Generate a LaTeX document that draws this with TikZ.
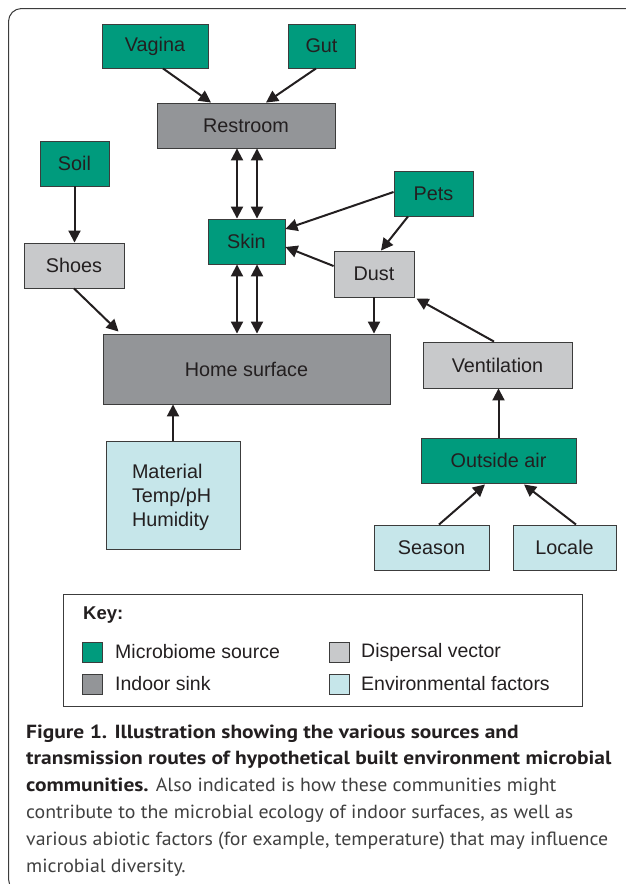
\documentclass[tikz,border=0pt]{standalone}
\usepackage{fontspec}
\setmainfont{Liberation Sans}
\newfontfamily\capfont{PT Sans}[FakeStretch=1.045]
\newfontfamily\capbold{PT Sans}[FakeStretch=1.13]
\usetikzlibrary{arrows.meta,calc}
\definecolor{srcgreen}{RGB}{0,155,125}
\definecolor{sinkgray}{RGB}{147,149,152}
\definecolor{dispgray}{RGB}{200,201,203}
\definecolor{envblue}{RGB}{198,230,234}
\definecolor{inkc}{RGB}{35,31,32}
\definecolor{framec}{RGB}{60,60,60}
\tikzset{
  box/.style={draw=framec, line width=0.9pt, inner sep=0pt, text=inkc, font=\fontsize{19.8pt}{23pt}\selectfont},
  src/.style={box, fill=srcgreen},
  sink/.style={box, fill=sinkgray},
  disp/.style={box, fill=dispgray},
  env/.style={box, fill=envblue},
  arr/.style={draw=inkc, line width=2pt, -{Triangle[length=12pt,width=12pt]}},
  darr/.style={draw=inkc, line width=2pt, {Triangle[length=12pt,width=12pt]}-{Triangle[length=12pt,width=12pt]}},
  swatch/.style={draw=framec, line width=0.9pt, minimum width=20pt, minimum height=20pt, inner sep=0pt},
  keytext/.style={anchor=west, inner sep=0pt, text=inkc, font=\fontsize{19.5pt}{22pt}\selectfont},
  capline/.style={anchor=base west, inner sep=0pt, font=\capfont\fontsize{19pt}{22pt}\selectfont, text=black!75},
  capbf/.style={capline, text=inkc, font=\capbold\bfseries\fontsize{19pt}{22pt}\selectfont}
}
\begin{document}
\begin{tikzpicture}[x=1pt,y=-1pt]
\useasboundingbox (0,0) rectangle (626,884);
\begin{scope}
\clip (0,0) rectangle (626,884);
\draw[framec, line width=1pt, rounded corners=13pt] (8.5,8.5) rectangle (660,892);
\end{scope}
% boxes
\node[src, minimum width=106pt, minimum height=44pt] (vagina) at (155,46) {Vagina};
\node[src, minimum width=67pt, minimum height=44pt] (gut) at (321.5,46) {Gut};
\node[sink, minimum width=178pt, minimum height=45pt] (restroom) at (246,125.5) {Restroom};
\node[src, minimum width=69pt, minimum height=45pt] (soil) at (74.5,163.5) {Soil};
\node[disp, minimum width=100pt, minimum height=45pt] (shoes) at (74,265.5) {Shoes};
\node[src, minimum width=77pt, minimum height=45pt] (skin) at (246.5,241.5) {Skin};
\node[src, minimum width=79pt, minimum height=45pt] (pets) at (433.5,193.5) {Pets};
\node[disp, minimum width=80pt, minimum height=46pt] (dust) at (374,274) {Dust};
\node[disp, minimum width=149pt, minimum height=46pt] (vent) at (497.5,365) {Ventilation};
\node[sink, minimum width=287pt, minimum height=70pt] (home) at (246.5,369) {Home surface};
\node[env, minimum width=134pt, minimum height=108pt, text width=82pt, align=left, font=\fontsize{19.8pt}{24pt}\selectfont] (mat) at (173,495) {\rule{0pt}{19pt}Material\\Temp/pH\\Humidity};
\node[src, minimum width=155pt, minimum height=45pt] (outside) at (498.5,460.5) {Outside air};
\node[env, minimum width=115pt, minimum height=45pt] (season) at (431.5,547.5) {Season};
\node[env, minimum width=103pt, minimum height=45pt] (locale) at (564.5,547.5) {Locale};
% arrows
\draw[arr] ([xshift=8pt]vagina.south) -- ([xshift=-35pt]restroom.north);
\draw[arr] ([xshift=-5.5pt]gut.south) -- ([xshift=20pt]restroom.north);
\draw[darr] ([xshift=-9pt]restroom.south) -- ([xshift=-9.5pt]skin.north);
\draw[darr] ([xshift=11pt]restroom.south) -- ([xshift=10.5pt]skin.north);
\draw[arr] (soil.south) -- (soil.south |- shoes.north);
\draw[arr] ([yshift=1.5pt]pets.west) -- ([yshift=12.5pt]skin.east);
\draw[arr] ([yshift=8pt]dust.west) -- ([yshift=-5.5pt]skin.east);
\draw[arr] ([xshift=-25.5pt]pets.south) -- ([xshift=7pt]dust.north);
\draw[arr] (dust.south) -- (dust.south |- home.north);
\draw[arr] ([xshift=-3.5pt]vent.north) -- ([xshift=2pt,yshift=-1pt]dust.south east);
\draw[darr] ([xshift=-9.5pt]skin.south) -- ([xshift=-9.5pt]home.north);
\draw[darr] ([xshift=10.5pt]skin.south) -- ([xshift=10.5pt]home.north);
\draw[arr] (shoes.south) -- ([xshift=16pt,yshift=2pt]home.north west);
\draw[arr] (mat.north) -- (mat.north |- home.south);
\draw[arr] (outside.north) -- (outside.north |- vent.south);
\draw[arr] ([xshift=7.5pt]season.north) -- ([xshift=-13.5pt,yshift=-1pt]outside.south);
\draw[arr] ([xshift=11.5pt]locale.north) -- ([xshift=25.5pt,yshift=-1pt]outside.south);
% key
\node[draw=framec, line width=1pt, minimum width=519pt, minimum height=112pt, inner sep=0pt] (keybox) at (322.5,650) {};
\node[keytext, font=\bfseries\fontsize{18.5pt}{21pt}\selectfont] (keylab) at (83,615) {Key:};
\node[swatch, fill=srcgreen] (sw1) at (92,652) {};
\node[keytext] (kt1) at (115,652) {Microbiome source};
\node[swatch, fill=sinkgray] (sw2) at (92,684) {};
\node[keytext] (kt2) at (115,684) {Indoor sink};
\node[swatch, fill=dispgray] (sw3) at (339,652) {};
\node[keytext] (kt3) at (361,652) {Dispersal vector};
\node[swatch, fill=envblue] (sw4) at (339,684) {};
\node[keytext] (kt4) at (361,684) {Environmental factors};
% caption
\node[capbf] (c1) at (26,738) {Figure 1. Illustration showing the various sources and};
\node[capbf] (c2) at (26,764.8) {transmission routes of hypothetical built environment microbial};
\node[capline] (c3) at (26,791.6) {\textcolor{inkc}{\capbold\bfseries communities.} Also indicated is how these communities might};
\node[capline] (c4) at (26,818.4) {contribute to the microbial ecology of indoor surfaces, as well as};
\node[capline] (c5) at (26,845.2) {various abiotic factors (for example, temperature) that may influence};
\node[capline] (c6) at (26,872) {microbial diversity.};
\end{tikzpicture}
\end{document}
